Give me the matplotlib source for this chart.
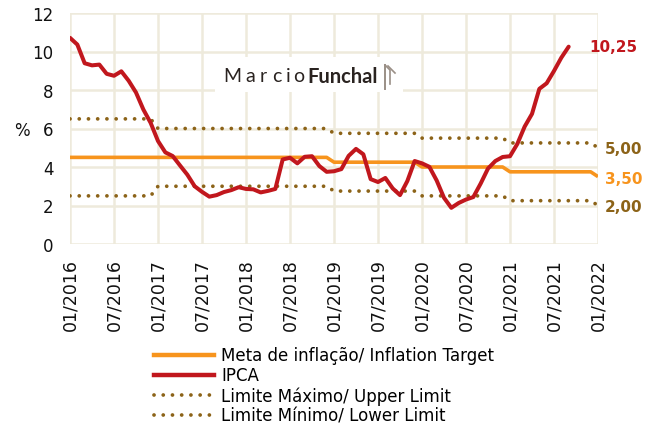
import numpy as np
import matplotlib
matplotlib.use("Agg")
import matplotlib.pyplot as plt
from matplotlib.lines import Line2D

plt.rcParams['font.family'] = ['DejaVu Sans']

# ---- data ----
ipca_2016 = [10.71, 10.36, 9.39, 9.28, 9.32, 8.84, 8.74, 8.97, 8.48, 7.87, 6.99, 6.29]
ipca_2017 = [5.35, 4.76, 4.57, 4.08, 3.60, 3.00, 2.71, 2.46, 2.54, 2.70, 2.80, 2.95]
ipca_2018 = [2.86, 2.84, 2.68, 2.76, 2.86, 4.39, 4.48, 4.19, 4.53, 4.56, 4.05, 3.75]
ipca_2019 = [3.78, 3.89, 4.58, 4.94, 4.66, 3.37, 3.22, 3.43, 2.89, 2.54, 3.27, 4.31]
ipca_2020 = [4.19, 4.01, 3.30, 2.40, 1.88, 2.13, 2.31, 2.44, 3.14, 3.92, 4.31, 4.52]
ipca_2021 = [4.56, 5.20, 6.10, 6.76, 8.06, 8.35, 8.99, 9.68, 10.25]
ipca = ipca_2016 + ipca_2017 + ipca_2018 + ipca_2019 + ipca_2020 + ipca_2021

years = [2016, 2017, 2018, 2019, 2020, 2021, 2022]
target_by_year = [4.5, 4.5, 4.5, 4.25, 4.0, 3.75, 3.5]
upper_by_year = [6.5, 6.0, 6.0, 5.75, 5.5, 5.25, 5.0]
lower_by_year = [2.5, 3.0, 3.0, 2.75, 2.5, 2.25, 2.0]
months_per_year = [12, 12, 12, 12, 12, 12, 1]
target = np.repeat(target_by_year, months_per_year)
upper = np.repeat(upper_by_year, months_per_year)
lower = np.repeat(lower_by_year, months_per_year)

tick_labels = ['01/2016', '07/2016', '01/2017', '07/2017', '01/2018', '07/2018',
               '01/2019', '07/2019', '01/2020', '07/2020', '01/2021', '07/2021', '01/2022']

end_labels = ['10,25', '5,00', '3,50', '2,00']

# ---- style ----
c_orange = '#F7941D'
c_red = '#C1171D'
c_brown = '#8C6318'
c_grid = '#EEEADC'
c_text = '#111111'

W, H = 646, 427
fig = plt.figure(figsize=(W / 100, H / 100), dpi=100)
ax = fig.add_axes([70 / W, 1 - 245 / H, 528 / W, 231 / H])

x_all = np.arange(len(target))
x_ipca = np.arange(len(ipca))

dot_style = (0, (0.01, 2.45))
ax.plot(x_all, upper, color=c_brown, lw=2.7, linestyle=dot_style, dash_capstyle='round', zorder=3)
ax.plot(x_all, lower, color=c_brown, lw=2.7, linestyle=dot_style, dash_capstyle='round', zorder=3)
ax.plot(x_all, target, color=c_orange, lw=2.6, solid_capstyle='butt', zorder=4)
ax.plot(x_ipca, ipca, color=c_red, lw=2.9, solid_capstyle='round', solid_joinstyle='round', zorder=5)

ax.set_xlim(0, 72)
ax.set_ylim(0, 12)
ax.set_xticks(np.arange(0, 73, 6))
ax.set_xticklabels(tick_labels, rotation=90, fontsize=12.5, color=c_text)
ax.set_yticks(np.arange(0, 13, 2))
ax.set_yticklabels([str(v) for v in range(0, 13, 2)], fontsize=12, color=c_text)
ax.tick_params(length=0)
ax.tick_params(axis='y', pad=12)
ax.tick_params(axis='x', pad=10)
for s in ax.spines.values():
    s.set_visible(False)
ax.grid(True, color=c_grid, lw=1.8, zorder=0)
ax.set_axisbelow(True)

fig.text(14 / W, 1 - 131 / H, '%', fontsize=12, ha='left', va='center', color=c_text)

# end labels
ax.text(70.8, ipca[-1], end_labels[0], color=c_red, fontsize=11,
        fontweight='bold', va='center', ha='left', clip_on=False)
ax.text(72.9, upper[-1] - 0.05, end_labels[1], color=c_brown, fontsize=11,
        fontweight='bold', va='center', ha='left', clip_on=False)
ax.text(72.9, target[-1] - 0.12, end_labels[2], color=c_orange, fontsize=11,
        fontweight='bold', va='center', ha='left', clip_on=False)
ax.text(72.9, lower[-1] - 0.03, end_labels[3], color=c_brown, fontsize=11,
        fontweight='bold', va='center', ha='left', clip_on=False)

# logo
logo_ax = fig.add_axes([215 / W, 1 - 93 / H, 188 / W, 35 / H])
logo_ax.set_xlim(0, 188)
logo_ax.set_ylim(0, 35)
logo_ax.axis('off')
logo_ax.add_patch(plt.Rectangle((0, 0), 188, 35, color='white', zorder=0))
marcio_letters = ['M', 'a', 'r', 'c', 'i', 'o']
marcio_x = [8, 30, 45, 57, 71, 78]
for ch, xx in zip(marcio_letters, marcio_x):
    logo_ax.text(xx, 16, ch, fontsize=14, color='#2a2320', va='center', ha='left',
                 family='Lato', fontweight='normal')
logo_ax.text(92, 16, 'Funchal', fontsize=14.5, color='#2a2320', va='center',
             ha='left', family='Lato', fontweight='bold')
logo_ax.plot([170, 170], [3, 27], color='#9a8f86', lw=1.4)
logo_ax.plot([170, 175, 175], [27, 22, 8], color='#9a8f86', lw=1.2)
logo_ax.plot([173, 180], [26, 19], color='#9a8f86', lw=1.2)

# legend
handles = [
    Line2D([], [], color=c_orange, lw=3.2),
    Line2D([], [], color=c_red, lw=3.2),
    Line2D([], [], color=c_brown, lw=2.7, linestyle=dot_style, dash_capstyle='round'),
    Line2D([], [], color=c_brown, lw=2.7, linestyle=dot_style, dash_capstyle='round'),
]
labels = ['Meta de inflação/ Inflation Target', 'IPCA',
          'Limite Máximo/ Upper Limit', 'Limite Mínimo/ Lower Limit']
fig.legend(handles, labels, loc='upper left', bbox_to_anchor=(151 / W, 1 - 344 / H),
           frameon=False, fontsize=12, handlelength=3.6, handletextpad=0.4,
           labelspacing=0.12, borderaxespad=0, borderpad=0.2)

fig.savefig('out.png', dpi=100)
